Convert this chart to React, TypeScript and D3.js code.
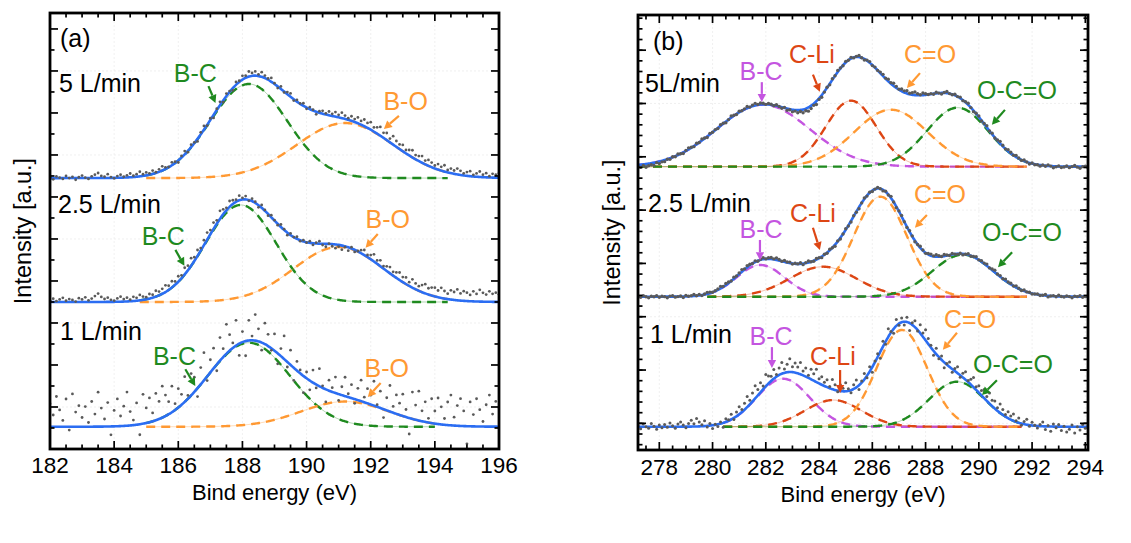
import React from "react";
import * as d3 from "d3";

// ================= Panel (a): B 1s =================
const A_X_DOMAIN = [182, 196];
const A_X_TICKS = [182, 184, 186, 188, 190, 192, 194, 196];
const A_Y_DOMAIN = [0, 10.38];
const A_FLOWS = ["5 L/min", "2.5 L/min", "1 L/min"];
const A_BASELINES = [6.45, 3.5, 0.53];
const A_COMP_NAMES = ["B-C", "B-O"];
const A_CENTERS = [[188.2, 191.2], [187.95, 191.0], [188.2, 191.2]];
const A_SIGMAS = [[1.2, 1.5], [1.1, 1.4], [1.28, 1.37]];
const A_HEIGHTS = [[2.24, 1.31], [2.31, 1.31], [2.0, 0.6]];
const A_FIT_RANGE = [[185, 194.4], [184.8, 194.4], [185, 194.0]];
const A_DATA_START = 182;
const A_DATA_STEP = 0.1;
// measured points, as deviation from the fit (hundredths of a unit)
const A_RESID_5 = [
  2, -3, 4, 1, -2, 5, 0, 3, -4, 2,
  6, 1, -2, 4, 8, 12, 5, 3, 9, 2,
  -1, 4, 7, 2, 5, 9, 3, 6, 11, 4,
  7, 3, 8, 2, 6, 10, 4, 1, 7, 3,
  -5, 4, 8, -3, 6, 2, -6, 5, 9, -2,
  4, -7, 3, 8, -4, 6, 2, -5, 7, 3,
  9, 5, 12, 7, 10, 4, 11, 6, 3, 9,
  2, -4, 6, -2, 5, 8, -3, 4, 1, 6,
  -3, 5, 2, -6, 4, 7, 3, 9, 5, 11,
  6, 13, 8, 4, 11, 7, 14, 9, 16, 12,
  18, 10, 15, 21, 12, 17, 9, 20, 14, 11,
  15, 8, 13, 17, 10, 12, 16, 9, 14, 11,
  7, 13, 9, 15, 6, 11, 8, 14, 10, 5,
  9, 12, 4, 8, 13, 6, 10, 3, 9, 7,
  11,
];
const A_RESID_25 = [
  4, 8, 2, 6, 10, 3, 7, 5, 1, 9,
  6, 11, 4, 8, 14, 20, 12, 7, 10, 5,
  3, 8, 12, 6, 9, 4, 10, 7, 13, 8,
  5, 11, 7, 14, 9, 12, 16, 10, 15, 8,
  13, 7, 16, 11, 18, 9, 14, 6, 12, 17,
  10, 15, 8, 19, 12, 6, 14, 9, 5, 11,
  4, 8, -2, 6, 3, -5, 7, 2, -4, 5,
  1, -3, 6, 2, -6, 4, 0, 5, -2, 3,
  -1, 4, -4, 2, 6, -3, -7, 1, -5, -9,
  -4, -10, -2, -8, 3, -5, 1, 7, 12, 5,
  10, 17, 8, 14, 6, 11, 15, 9, 13, 18,
  12, 16, 9, 20, 14, 11, 17, 22, 15, 19,
  21, 16, 24, 18, 13, 22, 19, 26, 17, 23,
  20, 15, 24, 18, 28, 21, 17, 25, 19, 22,
  18,
];
const A_RESID_1 = [
  55, 28, 72, 40, 15, 66, -8, 78, 35, 50,
  22, 48, 10, 60, 30, 82, 44, 18, 57, -20,
  38, 65, 24, 47, 80, 33, 12, 52, -25, 70,
  36, 58, 20, 64, 42, 75, 50, 30, 62, 15,
  45, 25, 60, 8, 52, 35, -20, 40, 66, -10,
  30, 48, -15, 55, 20, 70, 38, 12, 60, -28,
  25, -35, 48, 10, 62, 30, -18, 50, 28, -5,
  40, -25, 18, 55, -12, 35, -30, 22, 8, -40,
  15, -22, 30, -8, 42, 5, -30, 25, 10, 38,
  -15, 20, 45, 8, 32, -10, 28, 50, 12, 35,
  22, 58, 5, 40, -20, 30, 62, 15, 45, 28,
  52, 18, -38, 64, 35, 70, 25, 48, 10, 58,
  30, 62, 42, 15, 55, 72, 20, 48, 65, 36,
  -42, 58, 28, 66, 40, 12, 52, 75, 30, 60,
  45,
];
// annotation: [text, textX(eV), textY, arrowFromX, arrowFromY, arrowToX, arrowToY]
const A_ANNOT = [
  [["B-C", 186.53, 8.74, 186.94, 8.64, 187.16, 8.24], ["B-O", 193.09, 8.07, 192.88, 7.93, 192.41, 7.62]],
  [["B-C", 185.53, 4.86, 185.91, 4.74, 186.19, 4.36], ["B-O", 192.53, 5.26, 192.22, 5.12, 191.84, 4.79]],
  [["B-C", 185.88, 2.0, 186.22, 1.9, 186.53, 1.5], ["B-O", 192.5, 1.71, 192.31, 1.57, 191.91, 1.24]],
];
const A_FLOW_POS = [[182.28, 8.5], [182.25, 5.62], [182.31, 2.6]];
const A_TAG = ["(a)", 182.31, 9.57];

// ================= Panel (b): C 1s =================
const B_X_DOMAIN = [277.2, 294.1];
const B_X_TICKS = [278, 280, 282, 284, 286, 288, 290, 292, 294];
const B_Y_DOMAIN = [0, 8.16];
const B_FLOWS = ["5L/min", "2.5 L/min", "1 L/min"];
const B_BASELINES = [5.315, 2.876, 0.437];
const B_COMP_NAMES = ["B-C", "C-Li", "C=O", "O-C=O"];
const B_CENTERS = [[281.9, 285.2, 286.7, 289.2], [281.8, 284.15, 286.3, 289.4], [282.65, 284.53, 287.11, 289.18]];
const B_SIGMAS = [[1.75, 0.95, 1.38, 1.15], [0.9, 1.25, 1.0, 1.15], [1.0, 1.06, 0.95, 1.05]];
const B_HEIGHTS = [[1.163, 1.238, 1.069, 1.107], [0.595, 0.563, 1.876, 0.788], [0.9, 0.5, 1.814, 0.844]];
const B_FIT_RANGE = [[277.2, 291.8], [279.8, 291.8], [280.4, 291.6]];
const B_DATA_START = 277.2;
const B_DATA_STEP = 0.1;
const B_RESID_5 = [
  -3, -5, -2, -6, -4, -3, -5, -1, -4, -2,
  -3, 0, -2, 1, -1, 2, 0, -2, 1, 3,
  1, -1, 2, 0, 3, 1, -2, 2, 0, 1,
  -1, 2, 1, -2, 0, 3, 1, -1, 2, 0,
  1, 3, 0, 2, 4, 1, 3, 2, 0, 2,
  1, -1, 2, 0, -2, 1, -3, -1, -4, -2,
  -5, -3, -6, -4, -7, -5, -3, -6, -2, -4,
  -1, 1, -2, 2, 0, 3, 1, -1, 2, 0,
  2, -1, 1, 3, 0, -2, 1, 2, -1, 1,
  0, 2, 3, 1, 4, 2, 5, 3, 1, 4,
  3, 5, 2, 4, 6, 3, 1, 4, 2, 0,
  1, -1, 2, 0, -2, 1, 3, 0, -1, 2,
  0, 2, -1, 1, 3, 0, -2, 1, 2, -1,
  1, 3, 0, 2, -1, 1, 4, 2, 0, 3,
  2, 0, 3, 1, -1, 2, 0, -2, 1, -1,
  0, -2, 1, -1, 2, 0, -3, -1, 1, -2,
  -1, 1, -2, 0, 2, -1, -3, 0, 1, -2,
];
const B_RESID_25 = [
  1, -1, 2, 0, -2, 1, 0, 2, -1, 1,
  0, -2, 1, 2, -1, 0, 1, -2, 2, 0,
  1, 3, 0, 2, -1, 1, 3, 2, 0, 1,
  2, 4, 1, 3, 2, 0, 3, 1, 2, 4,
  1, 3, 2, 0, 2, -1, 1, 3, 0, 2,
  3, 1, 4, 2, 0, 3, 1, 2, -1, 1,
  0, 2, -2, 1, 3, 0, -1, 2, 1, -2,
  1, -1, 2, 0, -3, 1, -2, 0, 2, -1,
  -2, 1, -1, -3, 0, 2, -1, 1, -2, 0,
  2, 0, -2, 1, -1, 3, 0, -2, 1, 2,
  0, -1, 2, 1, -2, 0, 3, 1, -1, 2,
  3, 1, 4, 2, 0, 3, 1, -1, 2, 0,
  -1, 1, -2, 0, 2, -1, 1, 3, 0, 2,
  1, 3, 0, 2, 4, 1, 2, 0, 3, 1,
  2, 0, 3, 1, -1, 2, 0, 1, -1, 0,
  1, -1, 0, 2, -2, 0, 1, -1, 2, 0,
  -1, 1, 0, -2, 1, 0, 2, -1, 0, 1,
];
const B_RESID_1 = [
  2, -4, 5, 0, -3, 6, 1, -5, 3, -2,
  4, -1, 7, 2, -3, 5, 9, 3, -2, 6,
  12, 5, 15, 8, 3, 10, -2, 4, -6, 1,
  -4, 3, -8, 6, 2, 10, -3, 8, 14, 5,
  12, 20, 8, 16, 24, 11, 18, 6, 22, 14,
  9, 17, 4, 13, 21, 7, 15, 25, 10, 18,
  12, 22, 8, 16, 5, 19, 13, 24, 9, 15,
  7, 14, 3, 18, 10, -2, 12, 6, 16, 4,
  -5, 8, 14, -8, 3, 11, -4, 9, -10, 2,
  6, -12, 10, -5, 15, 2, -8, 12, -3, 8,
  -6, 9, -14, 4, 12, -2, 16, 7, 20, 10,
  4, -8, 11, -3, 7, -10, 2, 9, -6, 5,
  12, -4, 8, 15, 3, 10, 18, 6, 13, 9,
  16, 8, 20, 11, 14, 6, 17, 10, 4, 12,
  7, 13, 2, 9, -3, 5, 10, -2, 6, 1,
  -4, 3, 8, -6, 2, -9, 5, -2, 4, -7,
  1, -10, -5, 3, -12, 0, -6, 4, -3, 2,
];
const B_ANNOT = [
  [
    ["B-C", 281.82, 6.94, 281.85, 6.9, 281.85, 6.53],
    ["C-Li", 283.73, 7.26, 283.77, 7.04, 284.03, 6.72],
    ["C=O", 288.17, 7.26, 287.79, 7.07, 287.3, 6.79],
    ["O-C=O", 291.43, 6.59, 290.98, 6.38, 290.49, 6.1],
  ],
  [
    ["B-C", 281.82, 3.98, 281.78, 3.94, 281.78, 3.56],
    ["C-Li", 283.77, 4.28, 283.77, 4.17, 284.03, 3.75],
    ["C=O", 288.54, 4.63, 288.05, 4.41, 287.6, 4.17],
    ["O-C=O", 291.62, 3.92, 291.25, 3.71, 290.72, 3.43],
  ],
  [
    ["B-C", 282.2, 1.97, 282.23, 1.93, 282.23, 1.54],
    ["C-Li", 284.52, 1.59, 284.79, 1.5, 284.79, 1.07],
    ["C=O", 289.67, 2.29, 289.18, 2.2, 288.65, 1.88],
    ["O-C=O", 291.28, 1.44, 290.68, 1.31, 290.12, 1.03],
  ],
];
const B_FLOW_POS = [[277.46, 6.72], [277.58, 4.47], [277.65, 2.01]];
const B_TAG = ["(b)", 277.76, 7.5];

// ================= styles =================
const FONT = "'Liberation Sans', Arial, Helvetica, sans-serif";
const BLUE = "#2b6df2";
const DOT = "#5a5a5a";
const A_COLORS = ["#1f8a1f", "#ff9933"];
const B_COLORS = ["#c455e0", "#dd4614", "#ff9933", "#1f8a1f"];

const gauss = (x: number, c: number, s: number, h: number) =>
  h * Math.exp(-((x - c) * (x - c)) / (2 * s * s));

type PanelCfg = {
  id: string;
  left: number; right: number; top: number; bottom: number;
  xDomain: number[]; xTicks: number[]; xMinorStep: number;
  yDomain: number[]; yMajor: number[]; yMinor: number[]; yGrid: number[];
  flows: string[]; flowPos: number[][]; baselines: number[];
  centers: number[][]; sigmas: number[][]; heights: number[][];
  colors: string[]; fitRange: number[][];
  dataStart: number; dataStep: number; resid: number[][];
  dotR: number[]; annot: any[][]; tag: any[];
  yLabelX: number; xLabelY: number; tickLabelY: number;
};

function Arrow({ x1, y1, x2, y2, color }: any) {
  const dx = x2 - x1, dy = y2 - y1;
  const len = Math.sqrt(dx * dx + dy * dy) || 1;
  const ux = dx / len, uy = dy / len;
  const hl = 8, hw = 4.2;
  const bx = x2 - ux * hl, by = y2 - uy * hl;
  const p = `${x2},${y2} ${bx - uy * hw},${by + ux * hw} ${bx + uy * hw},${by - ux * hw}`;
  return (
    <g>
      <line x1={x1} y1={y1} x2={bx} y2={by} stroke={color} strokeWidth={2.2} />
      <polygon points={p} fill={color} />
    </g>
  );
}

function Panel({ cfg }: { cfg: PanelCfg }) {
  const x = d3.scaleLinear().domain(cfg.xDomain).range([cfg.left, cfg.right]);
  const y = d3.scaleLinear().domain(cfg.yDomain).range([cfg.bottom, cfg.top]);
  const line = d3.line<[number, number]>().x((d) => x(d[0])).y((d) => y(d[1])).curve(d3.curveMonotoneX);
  const fullXs = d3.range(cfg.xDomain[0], cfg.xDomain[1] + 1e-9, 0.04);
  const clipId = `clip-${cfg.id}`;
  const minorX = d3.range(Math.ceil(cfg.xDomain[0] / cfg.xMinorStep) * cfg.xMinorStep, cfg.xDomain[1] + 1e-9, cfg.xMinorStep);

  const spectra = cfg.baselines.map((base, i) => {
    const cs = cfg.centers[i], ss = cfg.sigmas[i], hs = cfg.heights[i];
    const total = (xv: number) => base + cs.reduce((acc, c, j) => acc + gauss(xv, c, ss[j], hs[j]), 0);
    const [lo, hi] = cfg.fitRange[i];
    const fitXs = d3.range(lo, hi + 1e-9, 0.04);
    const comps = cs.map((c, j) => fitXs.map((xv) => [xv, base + gauss(xv, c, ss[j], hs[j])] as [number, number]));
    const fit = fullXs.map((xv) => [xv, total(xv)] as [number, number]);
    const pts = cfg.resid[i].map((r, k) => {
      const xv = cfg.dataStart + k * cfg.dataStep;
      return [xv, total(xv) + r / 100] as [number, number];
    });
    return { comps, fit, pts };
  });

  return (
    <g>
      <defs>
        <clipPath id={clipId}>
          <rect x={cfg.left} y={cfg.top} width={cfg.right - cfg.left} height={cfg.bottom - cfg.top} />
        </clipPath>
      </defs>
      {/* grid */}
      <g stroke="#ececec" strokeWidth={0.8} strokeDasharray="2,2">
        {cfg.xTicks.map((t) => (
          <line key={`gx${t}`} x1={x(t)} x2={x(t)} y1={cfg.top} y2={cfg.bottom} />
        ))}
        {cfg.yGrid.map((t) => (
          <line key={`gy${t}`} x1={cfg.left} x2={cfg.right} y1={y(t)} y2={y(t)} />
        ))}
      </g>
      <g clipPath={`url(#${clipId})`}>
        {spectra.map((s, i) => (
          <g key={`s${i}`}>
            {s.comps.map((c, j) => (
              <g key={`c${j}`}>
                <path d={line(c) || ""} fill="none" stroke={cfg.colors[j]} strokeWidth={0.7} opacity={0.5} />
                <path d={line(c) || ""} fill="none" stroke={cfg.colors[j]} strokeWidth={2.4} strokeDasharray="9,6" />
              </g>
            ))}
            <path d={line(s.fit) || ""} fill="none" stroke={BLUE} strokeWidth={2.6} />
            {s.pts.map((p, k) => (
              <circle key={k} cx={x(p[0])} cy={y(p[1])} r={cfg.dotR[i]} fill={DOT} />
            ))}
          </g>
        ))}
      </g>
      {/* ticks */}
      <g stroke="#000" strokeWidth={1.7}>
        {minorX.map((t) => {
          const major = cfg.xTicks.some((m) => Math.abs(m - t) < 1e-6);
          const l = major ? 8 : 4.5;
          return (
            <g key={`tx${t}`}>
              <line x1={x(t)} x2={x(t)} y1={cfg.bottom} y2={cfg.bottom - l} />
              <line x1={x(t)} x2={x(t)} y1={cfg.top} y2={cfg.top + l} />
            </g>
          );
        })}
        {cfg.yMinor.map((t) => (
          <g key={`tyn${t}`}>
            <line x1={cfg.left} x2={cfg.left + 4.5} y1={y(t)} y2={y(t)} />
            <line x1={cfg.right} x2={cfg.right - 4.5} y1={y(t)} y2={y(t)} />
          </g>
        ))}
        {cfg.yMajor.map((t) => (
          <g key={`tyj${t}`}>
            <line x1={cfg.left} x2={cfg.left + 8} y1={y(t)} y2={y(t)} />
            <line x1={cfg.right} x2={cfg.right - 8} y1={y(t)} y2={y(t)} />
          </g>
        ))}
      </g>
      <rect x={cfg.left} y={cfg.top} width={cfg.right - cfg.left} height={cfg.bottom - cfg.top} fill="none" stroke="#000" strokeWidth={2.8} />
      {/* tick labels & titles */}
      <g fontFamily={FONT} textAnchor="middle" fill="#000">
        {cfg.xTicks.map((t) => (
          <text key={`lx${t}`} x={x(t)} y={cfg.tickLabelY} fontSize={22.5}>{t}</text>
        ))}
        <text x={(cfg.left + cfg.right) / 2} y={cfg.xLabelY} fontSize={22}>Bind energy (eV)</text>
        <text transform={`translate(${cfg.yLabelX},${(cfg.top + cfg.bottom) / 2}) rotate(-90)`} fontSize={23.5}>Intensity [a.u.]</text>
      </g>
      {/* in-plot labels */}
      <g fontFamily={FONT} fontSize={25}>
        <text x={x(cfg.tag[1])} y={y(cfg.tag[2])} fill="#000">{cfg.tag[0]}</text>
        {cfg.flows.map((f, i) => (
          <text key={`f${i}`} x={x(cfg.flowPos[i][0])} y={y(cfg.flowPos[i][1])} fill="#000">{f}</text>
        ))}
        {cfg.annot.map((row, i) =>
          row.map((a: any, j: number) => (
            <g key={`a${i}-${j}`}>
              <text x={x(a[1])} y={y(a[2])} fill={cfg.colors[j]} textAnchor="middle">{a[0]}</text>
              <Arrow x1={x(a[3])} y1={y(a[4])} x2={x(a[5])} y2={y(a[6])} color={cfg.colors[j]} />
            </g>
          ))
        )}
      </g>
    </g>
  );
}

export default function App() {
  const cfgA: PanelCfg = {
    id: "a", left: 50, right: 499, top: 13, bottom: 449,
    xDomain: A_X_DOMAIN, xTicks: A_X_TICKS, xMinorStep: 0.5,
    yDomain: A_Y_DOMAIN, yMajor: d3.range(0, 10.01, 1), yMinor: d3.range(0.5, 10.4, 1),
    yGrid: d3.range(1, 10.01, 2),
    flows: A_FLOWS, flowPos: A_FLOW_POS, baselines: A_BASELINES,
    centers: A_CENTERS, sigmas: A_SIGMAS, heights: A_HEIGHTS,
    colors: A_COLORS, fitRange: A_FIT_RANGE,
    dataStart: A_DATA_START, dataStep: A_DATA_STEP, resid: [A_RESID_5, A_RESID_25, A_RESID_1],
    dotR: [1.4, 1.4, 1.4], annot: A_ANNOT, tag: A_TAG,
    yLabelX: 31, xLabelY: 500, tickLabelY: 473,
  };
  const cfgB: PanelCfg = {
    id: "b", left: 638, right: 1088, top: 15, bottom: 450,
    xDomain: B_X_DOMAIN, xTicks: B_X_TICKS, xMinorStep: 0.5,
    yDomain: B_Y_DOMAIN, yMajor: d3.range(0.5, 8.16, 1), yMinor: d3.range(0.1, 8.16, 0.2),
    yGrid: d3.range(0.5, 8.16, 2),
    flows: B_FLOWS, flowPos: B_FLOW_POS, baselines: B_BASELINES,
    centers: B_CENTERS, sigmas: B_SIGMAS, heights: B_HEIGHTS,
    colors: B_COLORS, fitRange: B_FIT_RANGE,
    dataStart: B_DATA_START, dataStep: B_DATA_STEP, resid: [B_RESID_5, B_RESID_25, B_RESID_1],
    dotR: [1.7, 1.7, 1.5], annot: B_ANNOT, tag: B_TAG,
    yLabelX: 620, xLabelY: 502, tickLabelY: 475,
  };
  return (
    <svg width={1131} height={543} style={{ position: "absolute", left: 0, top: 0, background: "#fff" }}>
      <rect width={1131} height={543} fill="#fff" />
      <Panel cfg={cfgA} />
      <Panel cfg={cfgB} />
    </svg>
  );
}
